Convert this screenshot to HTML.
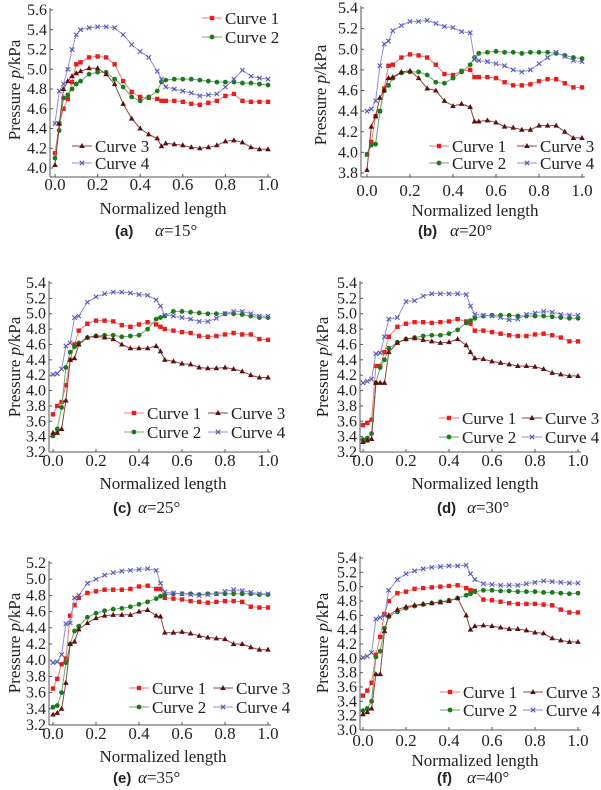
<!DOCTYPE html>
<html><head><meta charset="utf-8"><style>
html,body{margin:0;padding:0;background:#fff;}
svg{display:block;}
text{font-family:"Liberation Serif","Times New Roman",serif;fill:#222;}
text.cap{font-family:"Liberation Sans",Arial,sans-serif;font-weight:bold;}
</style></head><body>
<svg id="fig" width="601" height="790" viewBox="0 0 601 790" xmlns="http://www.w3.org/2000/svg"></svg>
<script>
const X = [0,0.02,0.04,0.06,0.08,0.1,0.12,0.16,0.2,0.24,0.28,0.32,0.36,0.4,0.44,0.48,0.5,0.52,0.56,0.6,0.64,0.68,0.72,0.76,0.8,0.84,0.88,0.92,0.96,1.0];
const xTickLabels = ["0.0","0.2","0.4","0.6","0.8","1.0"];
const xTickValues = [0,0.2,0.4,0.6,0.8,1.0];
const seriesNames = ["Curve 1","Curve 2","Curve 3","Curve 4"];

const a1=[4.15,4.45,4.6,4.7,4.87,5.05,5.07,5.12,5.13,5.12,5.05,4.88,4.77,4.72,4.71,4.7,4.68,4.68,4.68,4.67,4.65,4.64,4.66,4.68,4.73,4.75,4.68,4.67,4.67,4.67];
const a2=[4.1,4.38,4.71,4.74,4.8,4.85,4.88,4.95,4.97,4.97,4.9,4.82,4.72,4.68,4.72,4.78,4.87,4.89,4.9,4.9,4.9,4.89,4.88,4.87,4.87,4.87,4.86,4.86,4.85,4.84];
const a3=[4.03,4.45,4.8,4.88,4.93,4.96,4.98,5.01,5.01,4.95,4.85,4.65,4.5,4.4,4.34,4.3,4.22,4.25,4.24,4.23,4.21,4.2,4.21,4.23,4.27,4.28,4.26,4.21,4.19,4.19];
const a4=[4.45,4.78,4.85,5.0,5.2,5.35,5.4,5.42,5.43,5.43,5.42,5.35,5.25,5.18,5.12,4.98,4.9,4.82,4.8,4.78,4.76,4.73,4.74,4.75,4.82,4.9,4.99,4.93,4.91,4.9];

const b1=[3.98,4.1,4.35,4.4,4.62,4.84,4.85,4.92,4.95,4.94,4.92,4.85,4.76,4.75,4.79,4.8,4.73,4.73,4.73,4.72,4.68,4.65,4.65,4.66,4.69,4.71,4.71,4.67,4.63,4.63];
const b2=[3.98,4.07,4.08,4.4,4.6,4.65,4.72,4.77,4.78,4.78,4.75,4.68,4.67,4.72,4.78,4.85,4.92,4.96,4.97,4.98,4.97,4.97,4.96,4.97,4.97,4.97,4.96,4.94,4.92,4.91];
const b3=[3.83,4.25,4.35,4.53,4.6,4.72,4.73,4.78,4.79,4.72,4.62,4.6,4.5,4.45,4.47,4.44,4.3,4.3,4.31,4.29,4.25,4.24,4.22,4.22,4.26,4.26,4.26,4.2,4.14,4.14];
const b4=[4.4,4.42,4.5,4.84,5.05,5.08,5.18,5.23,5.27,5.27,5.28,5.25,5.22,5.21,5.17,5.16,4.9,4.89,4.88,4.86,4.84,4.8,4.78,4.8,4.86,4.92,4.97,4.93,4.89,4.88];

const c1=[3.69,3.8,3.85,4.07,4.4,4.6,4.78,4.87,4.91,4.91,4.9,4.85,4.83,4.86,4.89,4.86,4.83,4.8,4.78,4.76,4.75,4.71,4.7,4.71,4.73,4.75,4.73,4.73,4.67,4.66];
const c2=[3.41,3.5,3.78,4.3,4.5,4.57,4.62,4.69,4.71,4.72,4.72,4.7,4.71,4.72,4.8,4.93,4.95,4.97,5.03,5.03,5.02,5.01,5.0,5.0,5.0,5.0,4.99,4.97,4.95,4.95];
const c3=[3.45,3.45,3.5,3.87,4.4,4.42,4.6,4.69,4.71,4.69,4.67,4.6,4.55,4.55,4.55,4.58,4.51,4.4,4.38,4.35,4.34,4.3,4.29,4.29,4.3,4.28,4.25,4.2,4.17,4.17];
const c4=[4.21,4.22,4.28,4.58,4.62,4.95,4.97,5.15,5.22,5.26,5.28,5.28,5.27,5.25,5.24,5.18,5.1,4.98,4.97,4.95,4.93,4.9,4.9,4.94,5.0,5.03,5.03,5.0,4.97,4.97];

const d1=[3.55,3.58,3.62,4.32,4.32,4.5,4.7,4.83,4.87,4.89,4.89,4.88,4.89,4.9,4.93,4.9,4.87,4.78,4.78,4.76,4.74,4.72,4.71,4.71,4.73,4.74,4.72,4.69,4.64,4.64];
const d2=[3.36,3.38,3.44,4.1,4.3,4.4,4.55,4.63,4.67,4.69,4.71,4.72,4.72,4.74,4.79,4.88,4.91,4.94,4.97,4.98,4.98,4.98,4.97,4.97,4.97,4.97,4.96,4.95,4.94,4.94];
const d3=[3.33,3.35,3.37,4.1,4.1,4.1,4.5,4.62,4.67,4.68,4.66,4.64,4.62,4.63,4.67,4.59,4.5,4.42,4.41,4.38,4.36,4.34,4.32,4.32,4.31,4.28,4.23,4.21,4.19,4.19];
const d4=[4.1,4.12,4.15,4.48,4.49,4.7,4.93,4.95,5.16,5.17,5.23,5.26,5.26,5.26,5.26,5.25,5.1,4.99,4.98,4.97,4.95,4.92,4.93,4.99,5.01,5.03,5.02,4.99,4.98,4.98];

const e1=[3.65,3.77,3.95,4.02,4.55,4.68,4.77,4.83,4.85,4.87,4.87,4.87,4.88,4.91,4.92,4.88,4.88,4.77,4.76,4.75,4.73,4.72,4.71,4.72,4.73,4.73,4.72,4.66,4.65,4.65];
const e2=[3.42,3.44,3.6,3.97,4.2,4.36,4.42,4.53,4.58,4.61,4.63,4.64,4.66,4.69,4.72,4.76,4.79,4.81,4.82,4.82,4.82,4.81,4.82,4.82,4.82,4.82,4.82,4.82,4.81,4.81];
const e3=[3.33,3.35,3.4,3.72,4.2,4.23,4.38,4.46,4.52,4.55,4.56,4.56,4.56,4.6,4.62,4.55,4.54,4.34,4.34,4.35,4.33,4.3,4.28,4.27,4.26,4.2,4.2,4.16,4.13,4.13];
const e4=[3.97,3.98,4.07,4.45,4.46,4.77,4.8,4.95,5.0,5.05,5.08,5.1,5.11,5.12,5.13,5.11,4.95,4.84,4.83,4.82,4.81,4.8,4.81,4.82,4.85,4.87,4.86,4.84,4.82,4.82];

const f1=[3.48,3.55,3.66,4.05,4.3,4.62,4.8,4.91,4.93,4.97,4.98,4.99,5.0,5.01,5.02,4.98,4.95,4.94,4.82,4.81,4.79,4.77,4.76,4.76,4.76,4.75,4.74,4.68,4.64,4.64];
const f2=[3.27,3.3,3.4,4.02,4.1,4.42,4.58,4.65,4.7,4.73,4.75,4.77,4.79,4.81,4.84,4.88,4.9,4.93,4.95,4.95,4.94,4.94,4.93,4.93,4.93,4.92,4.92,4.91,4.9,4.91];
const f3=[3.22,3.25,3.3,3.78,3.78,4.38,4.6,4.68,4.72,4.74,4.76,4.77,4.78,4.8,4.84,4.6,4.4,4.45,4.46,4.45,4.43,4.41,4.41,4.39,4.36,4.35,4.28,4.25,4.23,4.23];
const f4=[4.01,4.03,4.08,4.55,4.57,4.6,4.95,5.1,5.18,5.22,5.25,5.27,5.28,5.29,5.29,5.3,5.18,5.1,5.04,5.03,5.02,5.02,5.02,5.04,5.06,5.08,5.07,5.06,5.05,5.05];

const NS="http://www.w3.org/2000/svg";
const svg=document.getElementById('fig');
const SERIF='"Liberation Serif", "Times New Roman", serif';
function mk(tag,attrs,parent){const e=document.createElementNS(NS,tag);for(const k in attrs)e.setAttribute(k,attrs[k]);(parent||svg).appendChild(e);return e;}

const colors=[{line:"#f07878",mk:"#e41f1f"},{line:"#6aaa6a",mk:"#1b7a1b"},{line:"#8a4545",mk:"#5e0f0f"},{line:"#8f8fd8",mk:"#5858b8"}];

function marker(g,i,x,y){
  const c=colors[i].mk;let m;
  if(i===0){m=mk('rect',{x:x-2.2,y:y-2.2,width:4.4,height:4.4,fill:c},g);}
  else if(i===1){m=mk('circle',{cx:x,cy:y,r:2.4,fill:c},g);}
  else if(i===2){m=mk('path',{d:`M${x} ${y-3}L${x+2.8} ${y+2}L${x-2.8} ${y+2}Z`,fill:c},g);}
  else {m=mk('path',{d:`M${x-2.2} ${y-2.2}L${x+2.2} ${y+2.2}M${x+2.2} ${y-2.2}L${x-2.2} ${y+2.2}`,stroke:c,'stroke-width':1.1,fill:'none'},g);}
  
  
}

const panels=[
 {id:'a',s:[a1,a2,a3,a4],ax:50,x0:55,x1:268,yT:10,yB:168,vmin:4.0,vmax:5.6,axisY:177,tickY:184,labY:208,labX:163,capY:236,capX:115,alX:155,alpha:"15°",ylX:14,ylY:90,
  leg:[[202,18,0],[202,37,1],[72,146,2],[72,163,3]]},
 {id:'b',s:[b1,b2,b3,b4],ax:361,x0:367,x1:582,yT:8,yB:173,vmin:3.8,vmax:5.4,axisY:177,tickY:190,labY:210,labX:475,capY:236,capX:418,alX:450,alpha:"20°",ylX:320,ylY:95,
  leg:[[429,146,0],[429,163,1],[517,146,2],[517,163,3]]},
 {id:'c',s:[c1,c2,c3,c4],ax:49,x0:53,x1:268,yT:283,yB:452,vmin:3.2,vmax:5.4,axisY:452,tickY:460,labY:483,labX:163,capY:513,capX:113,alX:138,alpha:"25°",ylX:14,ylY:367,
  leg:[[124,413,0],[124,432,1],[208,413,2],[208,432,3]]},
 {id:'d',s:[d1,d2,d3,d4],ax:360,x0:363,x1:578,yT:283,yB:452,vmin:3.2,vmax:5.4,axisY:452,tickY:460,labY:483,labX:475,capY:513,capX:437,alX:467,alpha:"30°",ylX:322,ylY:367,
  leg:[[439,418,0],[439,437,1],[522,418,2],[522,437,3]]},
 {id:'e',s:[e1,e2,e3,e4],ax:49,x0:53,x1:268,yT:563,yB:725,vmin:3.2,vmax:5.2,axisY:725,tickY:733,labY:756,labX:163,capY:783,capX:113,alX:138,alpha:"35°",ylX:14,ylY:643,
  leg:[[129,688,0],[129,707,1],[213,688,2],[213,707,3]]},
 {id:'f',s:[f1,f2,f3,f4],ax:360,x0:363,x1:578,yT:558,yB:730,vmin:3.0,vmax:5.4,axisY:730,tickY:740,labY:760,labX:475,capY:783,capX:437,alX:467,alpha:"40°",ylX:322,ylY:643,
  leg:[[440,692,0],[440,710,1],[523,692,2],[523,710,3]]}
];

panels.forEach(p=>{
  const g=mk('g',{'font-family':SERIF});
  
  
  const sx=v=>p.x0+(p.x1-p.x0)*v;
  const sy=v=>p.yB-(p.yB-p.yT)*(v-p.vmin)/(p.vmax-p.vmin);
  const ya=mk('line',{x1:p.ax,y1:p.yT-2,x2:p.ax,y2:p.axisY,stroke:'#555','stroke-width':1},g);
  
  const xa=mk('line',{x1:p.ax,y1:p.axisY,x2:p.x1+3,y2:p.axisY,stroke:'#555','stroke-width':1},g);
  
  const n=Math.round((p.vmax-p.vmin)/0.2);
  for(let k=0;k<=n;k++){
    const v=p.vmin+k*0.2, y=sy(v);
    mk('line',{x1:p.ax,y1:y,x2:p.ax+3,y2:y,stroke:'#555'},g);
    const t=mk('text',{x:p.ax-3,y:y+5,'text-anchor':'end','font-size':16,'font-family':SERIF},g);
    t.textContent=v.toFixed(1);
    
  }
  xTickValues.forEach((v,k)=>{
    const x=sx(v);
    mk('line',{x1:x,y1:p.axisY,x2:x,y2:p.axisY-3,stroke:'#555'},g);
    const t=mk('text',{x:x,y:p.tickY+6,'text-anchor':'middle','font-size':17,'font-family':SERIF},g);
    t.textContent=xTickLabels[k];
    
  });
  const xl=mk('text',{x:p.labX,y:p.labY+6,'text-anchor':'middle','font-size':17,'font-family':SERIF},g);
  xl.textContent='Normalized length';
  
  const yl=mk('text',{x:0,y:0,'text-anchor':'middle','font-size':17,'font-family':SERIF,transform:`translate(${p.ylX+6},${p.ylY}) rotate(-90)`},g);
  yl.innerHTML='Pressure <tspan font-style="italic">p</tspan>/kPa';
  
  const cp=mk('text',{x:p.capX,y:p.capY,'font-size':15,class:'cap','font-family':'"Liberation Sans", Arial, sans-serif','font-weight':'bold'},g);
  cp.textContent='('+p.id+')';
  
  const al=mk('text',{x:p.alX,y:p.capY,'font-size':17,'font-family':SERIF},g);
  al.innerHTML='<tspan font-style="italic">α</tspan>=' + p.alpha;
  
  p.s.forEach((vals,i)=>{
    const sg=mk('g',{},g);
    
    
    const d=vals.map((v,k)=>(k?'L':'M')+sx(X[k]).toFixed(1)+' '+sy(v).toFixed(1)).join('');
    const pl=mk('path',{d:d,fill:'none',stroke:colors[i].line,'stroke-width':1},sg);
    
    vals.forEach((v,k)=>marker(sg,i,sx(X[k]),sy(v)));
  });
  p.leg.forEach(([lx,ly,i])=>{
    const lg=mk('g',{},g);
    
    
    mk('line',{x1:lx,y1:ly,x2:lx+20,y2:ly,stroke:colors[i].line,'stroke-width':1},lg);
    marker(lg,i,lx+10,ly);
    const t=mk('text',{x:lx+23,y:ly+6,'font-size':17,'font-family':SERIF},lg);
    t.textContent=seriesNames[i];
  });
});
</script>
</body></html>
